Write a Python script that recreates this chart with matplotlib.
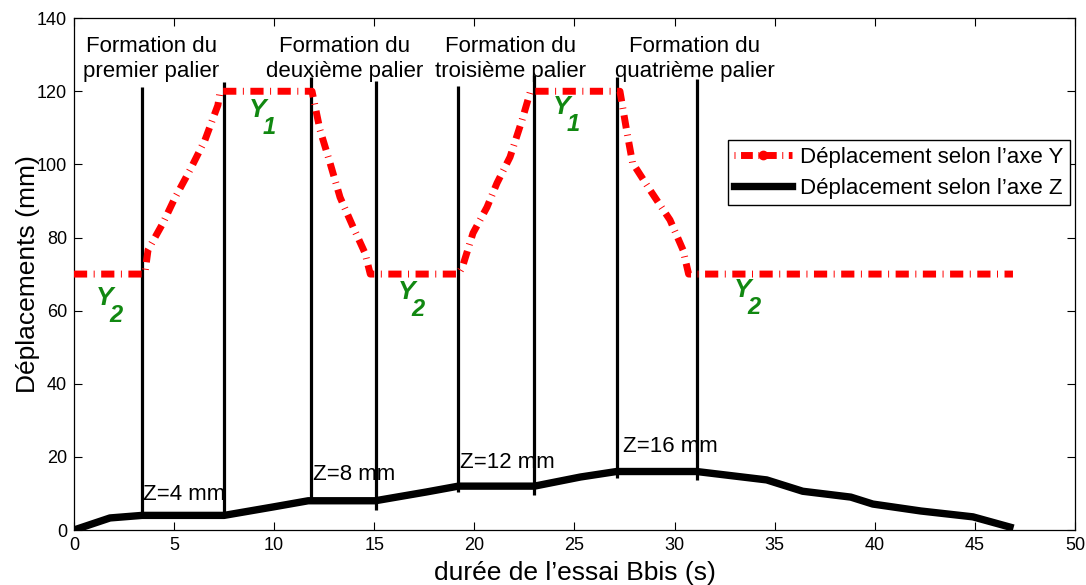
import matplotlib
matplotlib.use("Agg")
import matplotlib.pyplot as plt
from matplotlib.lines import Line2D

plt.rcParams['font.family'] = ['Liberation Sans', 'DejaVu Sans']
plt.rcParams['lines.scale_dashes'] = False

# Y displacement (mm) vs time (s)
t_y = [0, 3.4, 3.55, 3.7, 4.45, 5.04, 5.79, 6.54, 7.19, 7.3, 11.89, 12.29, 12.79,
       13.29, 13.94, 14.54, 14.8, 19.2, 19.4, 19.93, 20.63, 21.13, 21.78, 22.38, 22.8,
       27.27, 27.6, 27.9, 28.77, 29.77, 30.42, 30.7, 46.9]
y_disp = [70, 70, 70.5, 76.6, 84, 90.8, 98.4, 106.6, 116.2, 120, 120, 109.4, 100.4,
          91, 82.9, 75.7, 70, 70, 71.9, 81.2, 88.3, 94.9, 102, 112.1, 120,
          120, 109.4, 100.4, 93, 84.8, 76.6, 70, 70]

# Z displacement (mm) vs time (s)
t_z = [0, 1.8, 3.4, 7.5, 9.94, 11.7, 15.05, 17.6, 19.2, 23.0, 25.3, 27.1, 31.1,
       34.6, 36.4, 38.8, 39.9, 42.3, 44.9, 46.75]
z_disp = [0, 3.3, 4, 4, 6.3, 8, 8, 10.4, 12, 12, 14.5, 16, 16,
          13.7, 10.6, 9.0, 7.1, 5.2, 3.6, 0.8]

# vertical phase markers
v_x = [3.4, 7.5, 11.84, 15.08, 19.18, 22.98, 27.12, 31.12]
v_top = [121.1, 122.5, 123.9, 122.8, 121.4, 124.4, 123.9, 123.3]
v_bot = [4.0, 3.6, 7.4, 5.5, 10.4, 9.6, 14.2, 13.7]

phase_line1 = ["Formation du", "Formation du", "Formation du", "Formation du"]
phase_line2 = ["premier palier", "deuxième palier", "troisième palier", "quatrième palier"]
phase_x = [3.85, 13.5, 21.8, 31.0]

z_labels = ["Z=4 mm", "Z=8 mm", "Z=12 mm", "Z=16 mm"]
z_lab_x = [3.45, 11.94, 19.28, 27.42]
z_lab_y = [8.2, 13.7, 17.0, 21.3]

y_sym = ["1", "1", "2", "2", "2"]
y_sym_x = [9.19, 24.38, 1.55, 16.63, 33.42]
y_sym_y = [114.8, 115.7, 63.4, 65.1, 65.6]

fig = plt.figure(figsize=(10.86, 5.85), dpi=100)
ax = fig.add_axes([0.0681, 0.094, 0.9218, 0.875])

red_dash = (0, (9.5, 4.7, 0.7, 4.7))
ax.plot(t_y, y_disp, color='#ff0000', lw=5.0, linestyle=red_dash,
        dash_capstyle='butt', zorder=3)
ax.plot(t_z, z_disp, color='black', lw=5.3, solid_joinstyle='round', zorder=3)
ax.vlines(v_x, v_bot, v_top, colors='black', lw=2.3, zorder=2)

for x, l1, l2 in zip(phase_x, phase_line1, phase_line2):
    ax.text(x, 130.7, l1, ha='center', va='baseline', fontsize=16)
    ax.text(x, 123.9, l2, ha='center', va='baseline', fontsize=16)

for x, yv, s in zip(z_lab_x, z_lab_y, z_labels):
    ax.text(x, yv, s, ha='left', va='baseline', fontsize=16)

for x, yv, s in zip(y_sym_x, y_sym_y, y_sym):
    ax.text(x, yv, "Y", ha='center', va='center', fontsize=19, color='#118811',
            fontweight='bold', fontstyle='italic')
    ax.annotate(s, (x, yv), xytext=(8, -12.5), textcoords='offset points',
                ha='center', va='center', fontsize=17, color='#118811',
                fontweight='bold', fontstyle='italic')

ax.set_xlim(0, 50)
ax.set_ylim(0, 140)
ax.set_xticks(range(0, 51, 5))
ax.set_yticks(range(0, 141, 20))
ax.tick_params(direction='in', length=6, width=0.8, top=True, right=True,
               labelsize=13, pad=5)
for sp in ax.spines.values():
    sp.set_linewidth(0.9)

ax.set_xlabel("durée de l’essai Bbis (s)", fontsize=19, labelpad=5)
ax.set_ylabel("Déplacements (mm)", fontsize=19, labelpad=-2)

h_y = Line2D([], [], color='#ff0000', lw=5.0, linestyle=(0, (0.7, 4.0, 8.5, 4.0)),
             marker='o', ms=6, markeredgecolor='#ff0000')
h_z = Line2D([], [], color='black', lw=5.3)
leg = ax.legend([h_y, h_z], ["Déplacement selon l’axe Y", "Déplacement selon l’axe Z"],
                loc='upper right', bbox_to_anchor=(0.995, 0.762), fontsize=16,
                fancybox=False, edgecolor='black', framealpha=1, handlelength=2.6,
                handletextpad=0.35, labelspacing=0.45, borderpad=0.3,
                borderaxespad=0, numpoints=1)
leg.get_frame().set_linewidth(1.0)

fig.savefig("out.png", dpi=100)
